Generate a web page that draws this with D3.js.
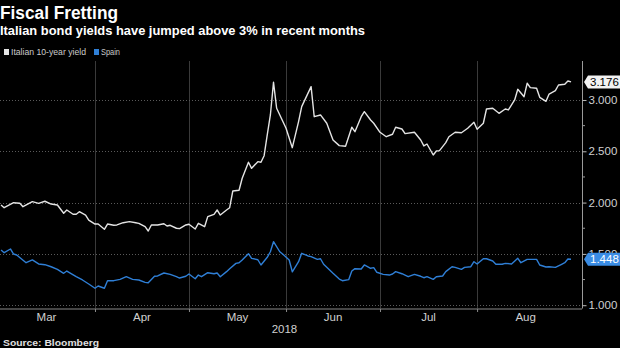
<!DOCTYPE html>
<html><head><meta charset="utf-8">
<script src="https://cdn.jsdelivr.net/npm/d3@7"></script>
<style>html,body{margin:0;padding:0;background:#000;}svg{display:block;}</style>
</head><body>
<svg id="c" width="620" height="348"></svg>
<script>
const title = "Fiscal Fretting";
const subtitle = "Italian bond yields have jumped above 3% in recent months";
const source = "Source: Bloomberg";
const seriesNames = ["Italian 10-year yield", "Spain"];
const yTicks = [1.0, 1.5, 2.0, 2.5, 3.0];
const yMinorTicks = [1.25, 1.75, 2.25, 2.75];
const monthLabels = ["Mar", "Apr", "May", "Jun", "Jul", "Aug"];
const yearLabel = "2018";

const italyDates = ["03-02","03-03","03-06","03-08","03-09","03-12","03-14","03-16","03-18","03-20","03-22","03-23","03-25","03-26","03-27","03-29","03-30",
"04-01","04-02","04-04","04-05","04-07","04-08","04-10","04-12","04-14","04-15","04-17","04-18","04-19","04-21","04-23","04-24","04-25","04-27","04-28","04-30",
"05-01","05-03","05-04","05-06","05-07","05-09","05-10","05-11","05-13","05-14","05-15","05-17","05-18","05-20","05-21","05-23","05-24","05-25","05-26","05-27","05-28","05-29",
"06-01","06-03","06-05","06-06","06-09","06-10","06-12","06-14","06-16","06-18","06-20","06-22","06-23","06-25","06-26","06-28","06-29",
"07-01","07-03","07-05","07-06","07-08","07-09","07-12","07-14","07-15","07-16","07-18","07-19","07-20","07-22","07-23","07-25","07-27","07-29","07-31",
"08-01","08-03","08-04","08-06","08-08","08-10","08-11","08-13","08-14","08-16","08-17","08-18","08-20","08-21","08-23","08-24","08-26","08-27","08-29","08-30","08-31"];
const italyValues = [1.977,1.950,1.999,1.993,1.960,2.009,1.993,2.013,1.986,1.977,1.896,1.928,1.886,1.886,1.911,1.879,1.830,
1.791,1.791,1.740,1.791,1.779,1.782,1.804,1.814,1.804,1.798,1.765,1.723,1.782,1.782,1.794,1.772,1.779,1.750,1.746,1.782,
1.789,1.743,1.798,1.765,1.863,1.886,1.928,1.879,1.928,1.950,2.113,2.120,2.237,2.393,2.334,2.399,2.393,2.457,2.659,2.854,3.173,2.919,
2.724,2.535,2.789,2.935,3.130,2.837,2.854,2.773,2.610,2.555,2.549,2.734,2.691,2.837,2.886,2.805,2.773,
2.685,2.642,2.666,2.734,2.717,2.672,2.685,2.610,2.552,2.571,2.464,2.503,2.506,2.584,2.642,2.685,2.681,2.724,2.783,
2.714,2.773,2.912,2.919,2.870,2.912,2.903,3.000,3.104,3.032,3.163,3.120,3.114,3.026,2.987,3.058,3.091,3.146,3.153,3.185,3.176];

const spainDates = ["03-02","03-03","03-05","03-06","03-07","03-10","03-12","03-14","03-16","03-18","03-20","03-22","03-23","03-26","03-28","03-30",
"04-01","04-02","04-04","04-05","04-07","04-09","04-11","04-13","04-15","04-17","04-18","04-20","04-21","04-23","04-25","04-27","04-28","04-30",
"05-01","05-03","05-04","05-05","05-07","05-09","05-10","05-11","05-13","05-14","05-16","05-17","05-18","05-20","05-21","05-23","05-24","05-26","05-27","05-28","05-30","05-31",
"06-02","06-03","06-05","06-06","06-08","06-09","06-11","06-12","06-13","06-16","06-18","06-19","06-21","06-22","06-23","06-25","06-26","06-28","06-29","06-30",
"07-02","07-04","07-05","07-06","07-08","07-10","07-12","07-14","07-15","07-16","07-18","07-19","07-21","07-22","07-24","07-25","07-27","07-28","07-30","07-31",
"08-01","08-03","08-04","08-06","08-07","08-09","08-10","08-12","08-14","08-15","08-17","08-19","08-20","08-21","08-23","08-24","08-26","08-28","08-29","08-30","08-31"];
const spainValues = [1.538,1.512,1.548,1.499,1.489,1.414,1.441,1.402,1.395,1.375,1.350,1.311,1.333,1.278,1.246,1.207,
1.165,1.187,1.165,1.239,1.239,1.252,1.278,1.252,1.246,1.223,1.219,1.282,1.285,1.314,1.301,1.278,1.265,1.282,
1.304,1.258,1.294,1.278,1.317,1.307,1.314,1.278,1.327,1.356,1.408,1.414,1.441,1.502,1.457,1.443,1.392,1.467,1.521,1.619,1.521,1.496,
1.441,1.326,1.424,1.506,1.480,1.473,1.447,1.453,1.399,1.311,1.255,1.239,1.249,1.333,1.356,1.353,1.392,1.360,1.366,1.321,
1.301,1.294,1.304,1.327,1.307,1.278,1.301,1.282,1.268,1.278,1.252,1.278,1.285,1.327,1.375,1.369,1.350,1.369,1.375,1.424,
1.402,1.453,1.453,1.431,1.399,1.399,1.408,1.402,1.457,1.414,1.447,1.447,1.447,1.392,1.372,1.375,1.369,1.399,1.414,1.450,1.448];

const WHITE = "#e4e4e4", BLUE = "#2f7fd6", BLUEBOX = "#3a8ce4";
const svg = d3.select("#c");
svg.append("rect").attr("width",620).attr("height",348).attr("fill","#000");

const parse = s => d3.timeParse("%Y-%m-%d")("2018-" + s);
const italy = italyDates.map((d,i) => ({date: parse(d), value: italyValues[i]}));
const spain = spainDates.map((d,i) => ({date: parse(d), value: spainValues[i]}));

const plotL = 0, plotR = 582, plotT = 61, plotB = 308.5;
const x = d3.scaleTime().domain([new Date(2018,2,1,16), new Date(2018,8,3,12)]).range([plotL, plotR]);
const y = d3.scaleLinear().domain([0.968, 3.37]).range([308.5, 62]);

// vertical month gridlines
const monthStarts = d3.timeMonth.range(new Date(2018,3,1), new Date(2018,8,1));
svg.append("g").selectAll("line").data(monthStarts).join("line")
  .attr("x1", d => Math.round(x(d)) + 0.5).attr("x2", d => Math.round(x(d)) + 0.5)
  .attr("y1", plotT).attr("y2", plotB)
  .attr("stroke", "#3a3a3a").attr("stroke-width", 1);

// horizontal dotted gridlines
svg.append("g").selectAll("line").data(yTicks).join("line")
  .attr("x1", plotL).attr("x2", plotR)
  .attr("y1", d => Math.round(y(d)) + 0.5).attr("y2", d => Math.round(y(d)) + 0.5)
  .attr("stroke", "#5a5a5a").attr("stroke-width", 1).attr("stroke-dasharray", "1,2");

// right axis
const yAxis = d3.axisRight(y).tickValues(yTicks).tickFormat(d3.format(".3f")).tickSize(4).tickPadding(2);
const gy = svg.append("g").attr("transform", `translate(${plotR + 0.5},0)`).call(yAxis);
gy.select(".domain").attr("stroke", "#9a9a9a").attr("d", `M0,${plotT}V${plotB}`);
gy.selectAll(".tick line").attr("stroke", "#bbb");
gy.selectAll(".tick text").attr("fill", "#d0d0d0").attr("font-family", "Liberation Sans, Arial, sans-serif").attr("font-size", 11.5);
svg.append("g").attr("transform", `translate(${plotR + 0.5},0)`).selectAll("line").data(yMinorTicks).join("line")
  .attr("x1", 0).attr("x2", 2.5).attr("y1", d => y(d)).attr("y2", d => y(d)).attr("stroke", "#999");

// bottom axis
const xAxis = d3.axisBottom(x).tickValues(monthStarts).tickFormat("").tickSize(3);
const gx = svg.append("g").attr("transform", `translate(0,${plotB + 0.5})`).call(xAxis);
gx.select(".domain").attr("stroke", "#8a8a8a").attr("d", `M${plotL},0H${plotR}`);
gx.selectAll(".tick line").attr("stroke", "#8a8a8a");

// month labels centred in each month
const allMonths = d3.timeMonth.range(new Date(2018,2,1), new Date(2018,8,1));
svg.append("g").selectAll("text").data(allMonths).join("text")
  .attr("x", d => (x(d) + x(d3.timeMonth.offset(d,1))) / 2)
  .attr("y", 320.5).attr("text-anchor", "middle")
  .attr("fill", "#d0d0d0").attr("font-family", "Liberation Sans, Arial, sans-serif").attr("font-size", 11.5)
  .text((d,i) => monthLabels[i]);
svg.append("text").attr("x", (x(new Date(2018,4,1)) + x(new Date(2018,6,1))) / 2).attr("y", 333)
  .attr("text-anchor", "middle").attr("fill", "#d0d0d0")
  .attr("font-family", "Liberation Sans, Arial, sans-serif").attr("font-size", 11.5).text(yearLabel);

// lines
const line = d3.line().x(d => x(d.date)).y(d => y(d.value));
svg.append("path").datum(spain).attr("d", line).attr("fill", "none").attr("stroke", BLUE).attr("stroke-width", 1.4).attr("stroke-linejoin", "round");
svg.append("path").datum(italy).attr("d", line).attr("fill", "none").attr("stroke", WHITE).attr("stroke-width", 1.4).attr("stroke-linejoin", "round");

// value tags
function tag(v, fill, textFill) {
  const cy = y(v);
  const g = svg.append("g");
  g.append("path").attr("d", `M584,${cy} L588,${cy-6.5} H620 V${cy+6.5} H588 Z`).attr("fill", fill);
  g.append("text").attr("x", 590).attr("y", cy + 4).attr("fill", textFill)
    .attr("font-family", "Liberation Sans, Arial, sans-serif").attr("font-size", 11.5).text(v.toFixed(3));
}
tag(italyValues[italyValues.length-1], "#f2f2f2", "#000");
tag(spainValues[spainValues.length-1], BLUEBOX, "#fff");

// titles
svg.append("text").attr("x", 0).attr("y", 18.5).attr("fill", "#fff")
  .attr("font-family", "Liberation Sans, Arial, sans-serif").attr("font-weight", 700).attr("font-size", 17.5)
  .attr("textLength", 118).attr("lengthAdjust", "spacingAndGlyphs").text(title);
svg.append("text").attr("x", 0).attr("y", 35).attr("fill", "#fff")
  .attr("font-family", "Liberation Sans, Arial, sans-serif").attr("font-weight", 700).attr("font-size", 12.5)
  .attr("textLength", 365).attr("lengthAdjust", "spacingAndGlyphs").text(subtitle);

// legend
const legendColors = [WHITE, BLUE];
const legendX = [4, 94];
const legendW = [82, 26];
seriesNames.forEach((n,i) => {
  svg.append("rect").attr("x", legendX[i]).attr("y", 49).attr("width", 5).attr("height", 6).attr("fill", legendColors[i]);
  svg.append("text").attr("x", legendX[i] + 7).attr("y", 55).attr("fill", "#ccc")
    .attr("font-family", "Liberation Sans, Arial, sans-serif").attr("font-size", 8.5)
    .attr("textLength", legendW[i] - 7).attr("lengthAdjust", "spacingAndGlyphs").text(n);
});

// source
svg.append("text").attr("x", 3).attr("y", 345.5).attr("fill", "#e0e0e0")
  .attr("font-family", "Liberation Sans, Arial, sans-serif").attr("font-weight", 700).attr("font-size", 9)
  .attr("textLength", 96).attr("lengthAdjust", "spacingAndGlyphs").text(source);
</script>
</body></html>
